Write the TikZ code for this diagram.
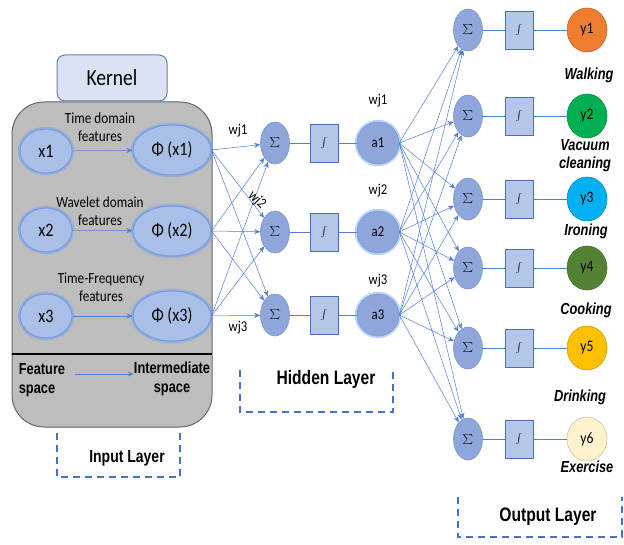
\documentclass[tikz,border=0pt]{standalone}
\usepackage{fontspec}
\setmainfont[FakeStretch=0.85]{Carlito}
\newfontfamily\arialf[FakeStretch=0.8]{Liberation Sans}
\usetikzlibrary{shapes.geometric,arrows.meta}
\definecolor{lnblue}{HTML}{4F7FD6}
\definecolor{glowc}{HTML}{6F9BE8}
\definecolor{featfill}{HTML}{A9BFE8}
\definecolor{sigfill}{HTML}{8EA6D9}
\definecolor{sigdraw}{HTML}{7D95CC}
\definecolor{intfill}{HTML}{B4C7E7}
\definecolor{intdraw}{HTML}{4A6FB5}
\definecolor{graybox}{HTML}{BDBDBD}
\definecolor{kernfill}{HTML}{DAE3F3}
\definecolor{kerndraw}{HTML}{6A7FA8}
\definecolor{dashc}{HTML}{4472C4}
\definecolor{cy1}{HTML}{ED7D31}
\definecolor{cy2}{HTML}{00B050}
\definecolor{cy3}{HTML}{00B0F0}
\definecolor{cy4}{HTML}{548235}
\definecolor{cy5}{HTML}{FFC000}
\definecolor{cy6}{HTML}{FFF2CC}
\begin{document}
\begin{tikzpicture}[x=1pt,y=-1pt,
  glow/.style={preaction={draw=glowc, line width=4.5pt, draw opacity=0.45}},
  feat/.style={ellipse, fill=featfill, draw=glowc, line width=1pt, glow, inner sep=0pt,
    font=\fontsize{19}{21}\selectfont},
  sig/.style={ellipse, fill=sigfill, draw=sigdraw, line width=0.6pt, inner sep=0pt,
    minimum width=29pt, minimum height=42pt, font=\fontsize{12}{14}\selectfont},
  intg/.style={rectangle, fill=intfill, draw=intdraw, line width=0.8pt, inner sep=0pt,
    minimum width=28pt, minimum height=38pt, font=\fontsize{11}{13}\selectfont},
  act/.style={circle, fill=sigfill, draw=glowc, line width=0.6pt, glow, inner sep=0pt,
    minimum size=42pt, font=\fontsize{15}{17}\selectfont},
  outc/.style={ellipse, draw=#1!80!black, fill=#1, line width=0.6pt, inner sep=0pt,
    minimum width=40pt, minimum height=44pt, font=\fontsize{16}{18}\selectfont},
  conn/.style={draw=lnblue, line width=0.5pt},
  arr/.style={conn, -{Stealth[length=6pt,width=5pt]}},
  small/.style={font=\fontsize{15.5}{18}\selectfont, align=center, inner sep=0pt},
  wlab/.style={font=\fontsize{15}{17}\selectfont, inner sep=0pt},
  act lab/.style={font=\arialf\bfseries\itshape\fontsize{16}{18}\selectfont, align=center, inner sep=0pt},
  space lab/.style={font=\arialf\bfseries\fontsize{16}{19}\selectfont, inner sep=0pt},
  layer lab/.style={font=\arialf\bfseries\fontsize{19.5}{22}\selectfont, inner sep=0pt},
  bracket/.style={draw=dashc, line width=2.4pt, dash pattern=on 7pt off 5pt}
]
\useasboundingbox (0,0) rectangle (624,545);

% input gray box
\draw[fill=graybox, draw=black!60, line width=1pt, rounded corners=32pt]
  (12,102) rectangle (212,427);
\draw[black, line width=1.3pt] (12,354) -- (212,354);
\node[draw=kerndraw, fill=kernfill, line width=1pt, rounded corners=8pt,
  minimum width=110pt, minimum height=46pt, font=\fontsize{23}{25}\selectfont]
  (kernel) at (112,78) {Kernel};

% feature nodes
\node[feat, minimum width=52pt, minimum height=44pt] (x1) at (46,151) {x1};
\node[feat, minimum width=52pt, minimum height=44pt] (x2) at (46,230) {x2};
\node[feat, minimum width=52pt, minimum height=44pt] (x3) at (46,316) {x3};
\node[feat, minimum width=78pt, minimum height=50pt] (p1) at (172,150) {Φ (x1)};
\node[feat, minimum width=78pt, minimum height=50pt] (p2) at (172,231) {Φ (x2)};
\node[feat, minimum width=78pt, minimum height=50pt] (p3) at (172,316) {Φ (x3)};
\node[small] (t1) at (100,127) {Time domain\\features};
\node[small] (t2) at (100,211) {Wavelet domain\\features};
\node[small] (t3) at (101,287) {Time-Frequency\\features};
\foreach \i in {1,2,3} {\draw[arr] (x\i) -- (p\i);}

\node[space lab, align=left] (fs) at (42,380) {Feature\\space};
\node[space lab, align=center] (is) at (172,379) {Intermediate\\space};
\coordinate (fsa) at (75,374);
\draw[arr] (fsa) -- (is.west |- fsa);

% input layer bracket
\draw[bracket] (57,433) -- (57,477) -- (180,477) -- (180,433);
\node[layer lab, font=\arialf\bfseries\fontsize{17.5}{20}\selectfont] (inl) at (127,458) {Input Layer};

% hidden layer
\foreach \i/\y in {1/143,2/232,3/315} {
  \node[sig] (h\i) at (275,\y) {$\sum$};
  \node[intg] (g\i) at (324,\y) {$\int$};
  \node[act] (a\i) at (378,\y) {a\i};
  \draw[conn] (h\i) -- (g\i);
  \draw[conn] (g\i) -- (a\i);
}
\foreach \i in {1,2,3} {\foreach \j in {1,2,3} {\draw[arr] (p\i.east) -- (h\j);}}
\node[wlab] (w1) at (238,131) {wj1};
\node[wlab, rotate=-45] (w2) at (257,200) {wj2};
\node[wlab] (w3) at (238,328) {wj3};
\node[wlab] (v1) at (378,101) {wj1};
\node[wlab] (v2) at (378,191) {wj2};
\node[wlab] (v3) at (378,281) {wj3};

\draw[bracket] (240,370) -- (240,412) -- (393,412) -- (393,370);
\node[layer lab] (hl) at (326,379) {Hidden Layer};

% output layer
\foreach \k/\y in {1/30,2/116,3/199,4/268,5/348,6/439} {
  \node[sig] (o\k) at (468,\y) {$\sum$};
  \node[intg] (q\k) at (519,\y) {$\int$};
  \node[outc=cy\k] (y\k) at (587,\y) {y\k};
  \draw[conn] (o\k) -- (q\k);
  \draw[conn] (q\k) -- (y\k);
}
\foreach \i in {1,2,3} {\foreach \k in {1,...,6} {\draw[arr] (a\i.east) -- (o\k);}}

\node[act lab] (l1) at (589,75) {Walking};
\node[act lab] (l2) at (585,156) {Vacuum\\cleaning};
\node[act lab] (l3) at (586,231) {Ironing};
\node[act lab] (l4) at (586,310) {Cooking};
\node[act lab] (l5) at (580,397) {Drinking};
\node[act lab] (l6) at (587,467) {Exercise};

\draw[bracket] (458,497) -- (458,537) -- (622,537) -- (622,497);
\node[layer lab] (ol) at (548,517) {Output Layer};
\end{tikzpicture}
\end{document}
